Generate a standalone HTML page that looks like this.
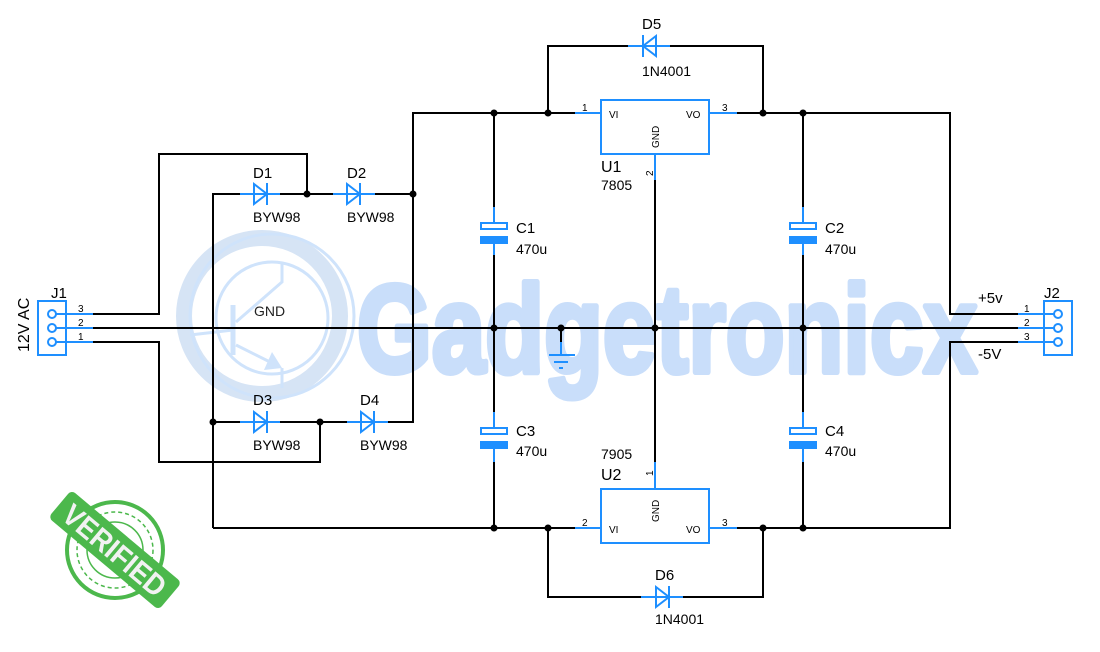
<!DOCTYPE html>
<html><head><meta charset="utf-8"><style>
html,body{margin:0;padding:0;background:#fff;}
svg{display:block;font-family:"Liberation Sans",sans-serif;}
</style></head><body>
<svg width="1100" height="652" viewBox="0 0 1100 652" xmlns="http://www.w3.org/2000/svg">
<!-- watermark logo -->
<g fill="none" stroke="#cfe3fb">
<circle cx="262" cy="316" r="78" stroke-width="16" stroke="#d6e4f5"/>
<circle cx="272" cy="316" r="82" stroke-width="3"/>
<circle cx="272" cy="318" r="56" stroke-width="3"/>
<line x1="233" y1="305" x2="233" y2="355" stroke-width="5"/>
<polyline points="236,322 282,282 282,262" stroke-width="3"/>
<polyline points="236,345 270,362" stroke-width="3"/>
<line x1="282" y1="368" x2="282" y2="388" stroke-width="3"/>
<line x1="190" y1="335" x2="233" y2="330" stroke-width="3"/>
</g>
<polygon points="282,368 264,370 272,352" fill="#cfe3fb"/>
<text x="357" y="372" font-size="124" font-weight="bold" fill="#c9defa" stroke="#c9defa" stroke-width="6" stroke-linejoin="round" textLength="620" lengthAdjust="spacingAndGlyphs">Gadgetronicx</text>

<!-- verified stamp -->
<g transform="translate(115,550)">
<circle r="48" fill="none" stroke="#4cb84c" stroke-width="4"/>
<circle r="38" fill="none" stroke="#4cb84c" stroke-width="1.5" stroke-dasharray="4 3"/>
<circle r="28" fill="none" stroke="#4cb84c" stroke-width="1.5"/>
<g transform="rotate(40)">
<rect x="-72" y="-18" width="144" height="36" rx="5" fill="#4cb84c"/>
<text x="0" y="11" text-anchor="middle" font-size="30" font-weight="bold" fill="#f2f2f2" textLength="125" lengthAdjust="spacingAndGlyphs">VERIFIED</text>
</g>
</g>

<!-- black wires -->
<g stroke="#000" stroke-width="2" fill="none">
<line x1="93" y1="328" x2="1018" y2="328"/>
<polyline points="93,314 159,314 159,154 307,154 307,194"/>
<polyline points="93,342 159,342 159,462 320,462 320,422"/>
<polyline points="213,528 213,194 240,194"/>
<line x1="280" y1="194" x2="333" y2="194"/>
<line x1="375" y1="194" x2="413" y2="194"/>
<line x1="213" y1="422" x2="240" y2="422"/>
<line x1="280" y1="422" x2="347" y2="422"/>
<polyline points="388,422 413,422 413,113 575,113"/>
<polyline points="737,113 950,113 950,314 1018,314"/>
<polyline points="1018,342 950,342 950,528 737,528"/>
<polyline points="213,528 575,528"/>
<polyline points="548,113 548,46 628,46"/>
<polyline points="670,46 763,46 763,113"/>
<polyline points="548,528 548,597 641,597"/>
<polyline points="683,597 763,597 763,528"/>
<line x1="655" y1="180" x2="655" y2="462"/>
<line x1="494" y1="113" x2="494" y2="207"/><line x1="494" y1="255" x2="494" y2="412"/><line x1="494" y1="462" x2="494" y2="528"/>
<line x1="803" y1="113" x2="803" y2="207"/><line x1="803" y1="255" x2="803" y2="412"/><line x1="803" y1="462" x2="803" y2="528"/>
<line x1="561" y1="328" x2="561" y2="342"/>
</g>
<g fill="#000">
<circle cx="307" cy="194" r="3.5"/><circle cx="413" cy="194" r="3.5"/>
<circle cx="213" cy="422" r="3.5"/><circle cx="320" cy="422" r="3.5"/>
<circle cx="494" cy="113" r="3.5"/><circle cx="548" cy="113" r="3.5"/><circle cx="763" cy="113" r="3.5"/><circle cx="803" cy="113" r="3.5"/>
<circle cx="494" cy="328" r="3.5"/><circle cx="561" cy="328" r="3.5"/><circle cx="655" cy="328" r="3.5"/><circle cx="803" cy="328" r="3.5"/>
<circle cx="494" cy="528" r="3.5"/><circle cx="548" cy="528" r="3.5"/><circle cx="763" cy="528" r="3.5"/><circle cx="803" cy="528" r="3.5"/>
</g>

<!-- blue components -->
<g stroke="#1e8fff" stroke-width="2" fill="none">
<rect x="38" y="301" width="28" height="54"/>
<circle cx="52" cy="314" r="4"/><circle cx="52" cy="328" r="4"/><circle cx="52" cy="342" r="4"/>
<line x1="56" y1="314" x2="93" y2="314"/><line x1="56" y1="328" x2="93" y2="328"/><line x1="56" y1="342" x2="93" y2="342"/>
<rect x="1044" y="301" width="28" height="54"/>
<circle cx="1058" cy="314" r="4"/><circle cx="1058" cy="328" r="4"/><circle cx="1058" cy="342" r="4"/>
<line x1="1018" y1="314" x2="1054" y2="314"/><line x1="1018" y1="328" x2="1054" y2="328"/><line x1="1018" y1="342" x2="1054" y2="342"/>
<line x1="240" y1="194" x2="280" y2="194"/><polygon points="254,184 254,204 267,194"/><line x1="267" y1="183" x2="267" y2="205"/>
<line x1="333" y1="194" x2="375" y2="194"/><polygon points="347,184 347,204 360,194"/><line x1="360" y1="183" x2="360" y2="205"/>
<line x1="240" y1="422" x2="280" y2="422"/><polygon points="254,412 254,432 267,422"/><line x1="267" y1="411" x2="267" y2="433"/>
<line x1="347" y1="422" x2="388" y2="422"/><polygon points="361,412 361,432 374,422"/><line x1="374" y1="411" x2="374" y2="433"/>
<line x1="641" y1="597" x2="683" y2="597"/><polygon points="656,587 656,607 669,597"/><line x1="669" y1="586" x2="669" y2="608"/>
<line x1="628" y1="46" x2="670" y2="46"/><polygon points="656,36 656,56 643,46"/><line x1="643" y1="35" x2="643" y2="57"/>
<rect x="601" y="100" width="108" height="54"/>
<line x1="575" y1="113" x2="601" y2="113"/><line x1="709" y1="113" x2="737" y2="113"/><line x1="655" y1="154" x2="655" y2="180"/>
<rect x="601" y="489" width="108" height="54"/>
<line x1="575" y1="528" x2="601" y2="528"/><line x1="709" y1="528" x2="737" y2="528"/><line x1="655" y1="462" x2="655" y2="489"/>
<line x1="494" y1="207" x2="494" y2="223"/><rect x="481" y="223" width="26" height="6"/><rect x="481" y="237" width="26" height="6" fill="#1e8fff"/><line x1="494" y1="243" x2="494" y2="255"/>
<line x1="494" y1="412" x2="494" y2="428"/><rect x="481" y="428" width="26" height="6"/><rect x="481" y="442" width="26" height="6" fill="#1e8fff"/><line x1="494" y1="448" x2="494" y2="462"/>
<line x1="803" y1="207" x2="803" y2="223"/><rect x="790" y="223" width="26" height="6"/><rect x="790" y="237" width="26" height="6" fill="#1e8fff"/><line x1="803" y1="243" x2="803" y2="255"/>
<line x1="803" y1="412" x2="803" y2="428"/><rect x="790" y="428" width="26" height="6"/><rect x="790" y="442" width="26" height="6" fill="#1e8fff"/><line x1="803" y1="448" x2="803" y2="462"/>
<line x1="561" y1="342" x2="561" y2="355"/>
<line x1="549" y1="355" x2="575" y2="355"/><line x1="554" y1="362" x2="568" y2="362"/><line x1="559" y1="368" x2="563" y2="368"/>
</g>

<!-- labels -->
<g fill="#000" font-size="14">
<text x="29" y="352" font-size="16" transform="rotate(-90 29 352)">12V AC</text>
<text x="51" y="298" font-size="15">J1</text>
<text x="1044" y="298" font-size="15">J2</text>
<text x="978" y="303" font-size="15">+5v</text>
<text x="978" y="359" font-size="15">-5V</text>
<text x="253" y="178" font-size="15">D1</text><text x="253" y="222">BYW98</text>
<text x="347" y="178" font-size="15">D2</text><text x="347" y="222">BYW98</text>
<text x="253" y="405" font-size="15">D3</text><text x="253" y="450">BYW98</text>
<text x="360" y="405" font-size="15">D4</text><text x="360" y="450">BYW98</text>
<text x="642" y="29" font-size="15">D5</text><text x="642" y="76">1N4001</text>
<text x="655" y="580" font-size="15">D6</text><text x="655" y="624">1N4001</text>
<text x="516" y="233" font-size="15">C1</text><text x="516" y="254">470u</text>
<text x="516" y="436" font-size="15">C3</text><text x="516" y="456">470u</text>
<text x="825" y="233" font-size="15">C2</text><text x="825" y="254">470u</text>
<text x="825" y="436" font-size="15">C4</text><text x="825" y="456">470u</text>
<text x="601" y="172" font-size="16">U1</text><text x="601" y="190">7805</text>
<text x="601" y="459">7905</text><text x="601" y="480" font-size="16">U2</text>
<text x="254" y="316" font-size="14" fill="#222">GND</text>
<g font-size="10">
<text x="78" y="312">3</text><text x="78" y="326">2</text><text x="78" y="340">1</text>
<text x="1024" y="312">1</text><text x="1024" y="326">2</text><text x="1024" y="340">3</text>
<text x="582" y="111">1</text><text x="722" y="111">3</text>
<text x="582" y="526">2</text><text x="722" y="526">3</text>
<text x="609" y="118">VI</text><text x="686" y="118">VO</text>
<text x="609" y="533">VI</text><text x="686" y="533">VO</text>
<text x="659" y="148" transform="rotate(-90 659 148)">GND</text>
<text x="659" y="522" transform="rotate(-90 659 522)">GND</text>
<text x="653" y="176" transform="rotate(-90 653 176)">2</text>
<text x="653" y="476" transform="rotate(-90 653 476)">1</text>
</g>
</g>
</svg>
</body></html>
